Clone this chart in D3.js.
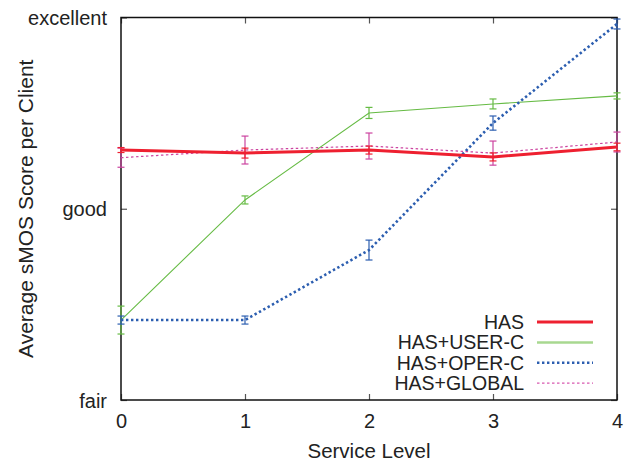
<!DOCTYPE html>
<html>
<head>
<meta charset="utf-8">
<script src="https://cdn.jsdelivr.net/npm/d3@7"></script>
<style>
  body { margin: 0; background: #fff; }
  svg text { font-family: "Liberation Sans", Arial, Helvetica, sans-serif; fill: #222; }
</style>
</head>
<body>
<div id="chart"></div>
<script>
// service levels on x, sMOS (fair=3, good=4, excellent=5) on y
const levels = [0, 1, 2, 3, 4];
const yTicks = [3, 4, 5];
const yTickLabels = ["fair", "good", "excellent"];

const hasVals = [4.307, 4.291, 4.307, 4.271, 4.323];
const hasErr = [0.013, 0.026, 0.021, 0.021, 0.02];
const userVals = [3.418, 4.046, 4.501, 4.548, 4.590];
const userErr = [0.073, 0.021, 0.029, 0.026, 0.016];
const operVals = [3.418, 3.418, 3.784, 4.448, 4.966];
const operErr = [0.021, 0.021, 0.052, 0.037, 0.026];
const globalVals = [4.267, 4.307, 4.328, 4.291, 4.349];
const globalErr = [0.05, 0.073, 0.068, 0.063, 0.052];

const seriesNames = ["HAS", "HAS+USER-C", "HAS+OPER-C", "HAS+GLOBAL"];

const width = 628, height = 462;
const margin = { left: 121, right: 11, top: 17.5, bottom: 62 };

const svg = d3.select("#chart").append("svg")
    .attr("width", width)
    .attr("height", height);

const x = d3.scaleLinear().domain([0, 4]).range([margin.left, width - margin.right]);
const y = d3.scaleLinear().domain([3, 5]).range([height - margin.bottom, margin.top]);

// series styling (order matters: drawn back to front)
const series = [
    { name: seriesNames[1], vals: userVals, err: userErr, color: "#66bb44", width: 1.1, dash: null, keyColor: "#a8d890", keyWidth: 2.5 },
    { name: seriesNames[2], vals: operVals, err: operErr, color: "#2c5eb0", width: 2.6, dash: "2.4,2.6", keyColor: "#2c5eb0", keyWidth: 2.6 },
    { name: seriesNames[3], vals: globalVals, err: globalErr, color: "#cc44a0", width: 1.2, dash: "2.5,2.5", keyColor: "#d858b0", keyWidth: 1.2 },
    { name: seriesNames[0], vals: hasVals, err: hasErr, color: "#ee2030", width: 3, dash: null, keyColor: "#ee2030", keyWidth: 3 }
];

// axes with inward ticks, mirrored on top/right like gnuplot
const tickFmt = d => yTickLabels[yTicks.indexOf(d)];

const gLeft = svg.append("g")
    .attr("transform", `translate(${margin.left},0)`)
    .call(d3.axisLeft(y).tickValues(yTicks).tickFormat(tickFmt).tickSize(-6).tickPadding(14));
const gRight = svg.append("g")
    .attr("transform", `translate(${width - margin.right},0)`)
    .call(d3.axisRight(y).tickValues(yTicks).tickFormat("").tickSize(-6));
const gBottom = svg.append("g")
    .attr("transform", `translate(0,${height - margin.bottom})`)
    .call(d3.axisBottom(x).tickValues(levels).tickFormat(d3.format("d")).tickSize(-6).tickPadding(14));
const gTop = svg.append("g")
    .attr("transform", `translate(0,${margin.top})`)
    .call(d3.axisTop(x).tickValues(levels).tickFormat("").tickSize(-6));

[gLeft, gRight, gBottom, gTop].forEach(g => {
    g.select(".domain").remove();
    g.selectAll(".tick line").attr("stroke", "#555").attr("stroke-width", 1.2);
    g.selectAll("text").attr("font-size", 20).attr("fill", "#222");
});
gLeft.selectAll(".tick text").attr("dy", "0.35em");

// frame
svg.append("rect")
    .attr("x", margin.left)
    .attr("y", margin.top)
    .attr("width", width - margin.right - margin.left)
    .attr("height", height - margin.bottom - margin.top)
    .attr("fill", "none")
    .attr("stroke", "#111")
    .attr("stroke-width", 1.5);

// axis titles
svg.append("text")
    .attr("x", (margin.left + width - margin.right) / 2)
    .attr("y", 458)
    .attr("text-anchor", "middle")
    .attr("font-size", 20.5)
    .text("Service Level");

svg.append("text")
    .attr("transform", `translate(33,${(margin.top + height - margin.bottom) / 2}) rotate(-90)`)
    .attr("text-anchor", "middle")
    .attr("font-size", 21)
    .text("Average sMOS Score per Client");

// lines and error bars
const line = d3.line().x((d, i) => x(levels[i])).y(d => y(d));

series.forEach(s => {
    const g = svg.append("g");

    const bars = g.selectAll("g.err")
        .data(s.vals)
        .enter().append("g")
        .attr("stroke", s.color)
        .attr("stroke-width", 1.2);
    bars.append("line")
        .attr("x1", (d, i) => x(levels[i])).attr("x2", (d, i) => x(levels[i]))
        .attr("y1", (d, i) => y(d - s.err[i])).attr("y2", (d, i) => y(d + s.err[i]));
    bars.append("line")
        .attr("x1", (d, i) => x(levels[i]) - 3.5).attr("x2", (d, i) => x(levels[i]) + 3.5)
        .attr("y1", (d, i) => y(d - s.err[i])).attr("y2", (d, i) => y(d - s.err[i]));
    bars.append("line")
        .attr("x1", (d, i) => x(levels[i]) - 3.5).attr("x2", (d, i) => x(levels[i]) + 3.5)
        .attr("y1", (d, i) => y(d + s.err[i])).attr("y2", (d, i) => y(d + s.err[i]));

    g.append("path")
        .datum(s.vals)
        .attr("d", line)
        .attr("fill", "none")
        .attr("stroke", s.color)
        .attr("stroke-width", s.width)
        .attr("stroke-dasharray", s.dash);
});

// legend
const legendOrder = [3, 0, 1, 2];
const legend = svg.append("g");
legendOrder.forEach((idx, row) => {
    const s = series[idx];
    const cy = 322 + row * 20.4;
    legend.append("text")
        .attr("x", 524)
        .attr("y", cy)
        .attr("dy", "0.35em")
        .attr("text-anchor", "end")
        .attr("font-size", 19.5)
        .text(s.name);
    legend.append("line")
        .attr("x1", 537).attr("x2", 593)
        .attr("y1", cy).attr("y2", cy)
        .attr("stroke", s.keyColor)
        .attr("stroke-width", s.keyWidth)
        .attr("stroke-dasharray", s.dash);
});
</script>
</body>
</html>
